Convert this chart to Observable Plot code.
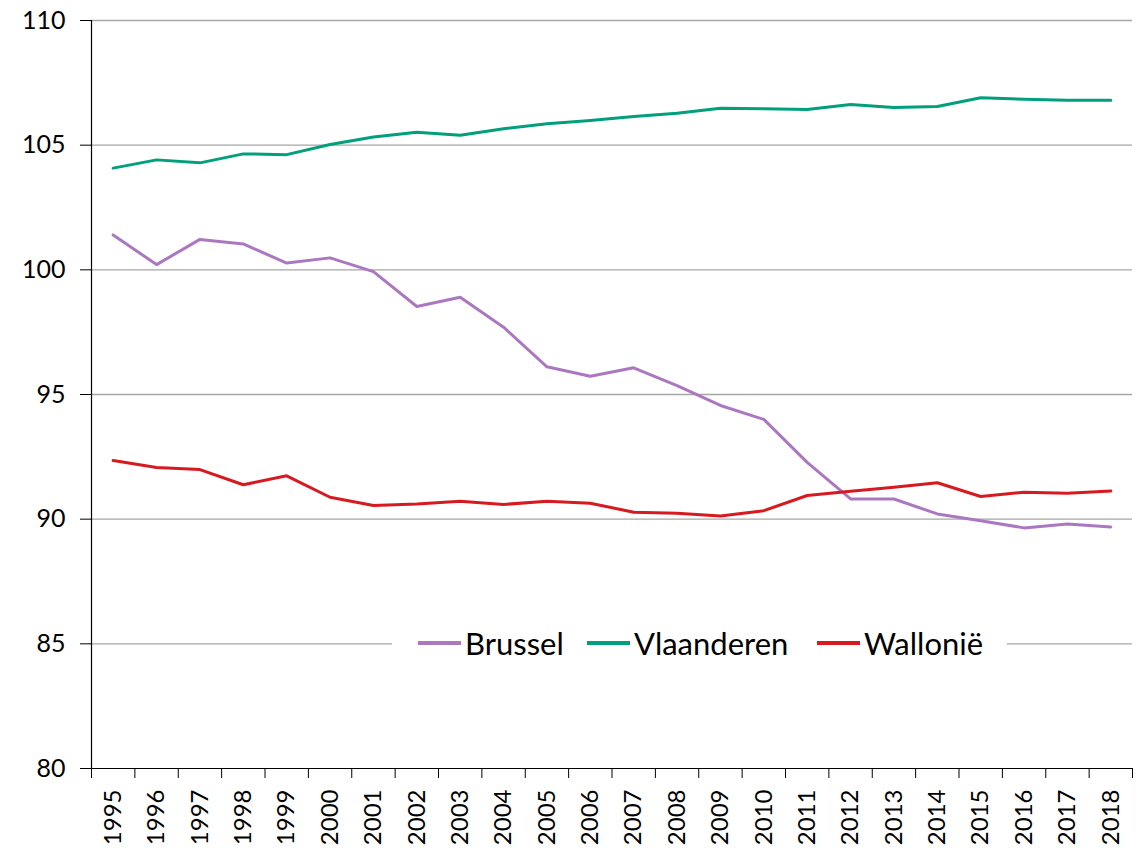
<!DOCTYPE html>
<html>
<head>
<meta charset="utf-8">
<script src="https://cdn.jsdelivr.net/npm/d3@7"></script>
<script src="https://cdn.jsdelivr.net/npm/@observablehq/plot@0.6"></script>
<style>
  html, body { margin: 0; padding: 0; background: #fff; }
  #wrap { position: relative; width: 1140px; height: 848px; font-family: Lato, "Open Sans", sans-serif; }
  #legend { position: absolute; left: 392px; top: 624px; width: 615px; height: 38px; background: #fff;
            display: flex; align-items: center; font-size: 31px; color: #000; }
  .item { display: flex; align-items: center; position: absolute; }
  .sw { width: 43px; height: 4px; margin-right: 4px; }
</style>
</head>
<body>
<div id="wrap"></div>
<script>
const years = [1995,1996,1997,1998,1999,2000,2001,2002,2003,2004,2005,2006,2007,2008,2009,2010,2011,2012,2013,2014,2015,2016,2017,2018];
const brussel = [101.40,100.21,101.22,101.04,100.27,100.48,99.93,98.53,98.90,97.70,96.11,95.73,96.07,95.36,94.56,94.00,92.28,90.81,90.81,90.21,89.94,89.65,89.81,89.69];
const vlaanderen = [104.08,104.41,104.29,104.65,104.62,105.03,105.33,105.52,105.40,105.66,105.86,105.99,106.15,106.28,106.48,106.46,106.43,106.63,106.51,106.55,106.90,106.84,106.80,106.80];
const wallonie = [92.35,92.07,91.99,91.38,91.74,90.88,90.55,90.61,90.72,90.59,90.72,90.64,90.28,90.24,90.13,90.34,90.95,91.12,91.28,91.46,90.91,91.08,91.04,91.13];
const seriesNames = ["Brussel", "Vlaanderen", "Wallonië"];
const seriesColors = ["#ab78bf", "#00a07c", "#d71a1f"];
const yTicks = [80, 85, 90, 95, 100, 105, 110];

const rows = [];
[brussel, vlaanderen, wallonie].forEach((arr, s) => {
  arr.forEach((v, i) => rows.push({year: years[i], value: v, series: seriesNames[s]}));
});
const boundaries = years.map(y => y - 0.5).concat([years[years.length - 1] + 0.5]);
const x0 = boundaries[0], x1 = boundaries[boundaries.length - 1];

const chart = Plot.plot({
  width: 1140,
  height: 848,
  marginLeft: 91,
  marginRight: 8,
  marginTop: 20,
  marginBottom: 80,
  style: {fontFamily: "Lato, 'Open Sans', sans-serif", fontSize: "25px", color: "#000", background: "#fff"},
  x: {type: "linear", domain: [x0, x1]},
  y: {domain: [80, 110]},
  color: {domain: seriesNames, range: seriesColors},
  marks: [
    Plot.ruleY(yTicks.slice(1), {stroke: "#a6a6a6", strokeWidth: 1.4}),
    Plot.ruleY([80], {stroke: "#000", strokeWidth: 1.2}),
    Plot.ruleX([x0], {stroke: "#000", strokeWidth: 1.2}),
    Plot.axisY({ticks: yTicks, tickSize: 11, tickPadding: 15, label: null, fontSize: 25, tickFormat: d => String(d)}),
    Plot.axisX({ticks: boundaries, tickSize: 10, tickFormat: () => "", label: null}),
    Plot.axisX({ticks: years, tickSize: 0, tickPadding: 21, tickRotate: -90, tickFormat: d => String(d), label: null, fontSize: 24}),
    Plot.line(rows, {x: "year", y: "value", z: "series", stroke: "series", strokeWidth: 3, curve: "linear"})
  ]
});
const wrap = document.getElementById("wrap");
wrap.appendChild(chart);

const legend = document.createElement("div");
legend.id = "legend";
const offsets = [26, 195, 425];
seriesNames.forEach((n, i) => {
  const it = document.createElement("div");
  it.className = "item";
  it.style.left = offsets[i] + "px";
  const sw = document.createElement("span");
  sw.className = "sw";
  sw.style.background = seriesColors[i];
  const t = document.createElement("span");
  t.textContent = n;
  it.appendChild(sw); it.appendChild(t);
  legend.appendChild(it);
});
wrap.appendChild(legend);
</script>
</body>
</html>
